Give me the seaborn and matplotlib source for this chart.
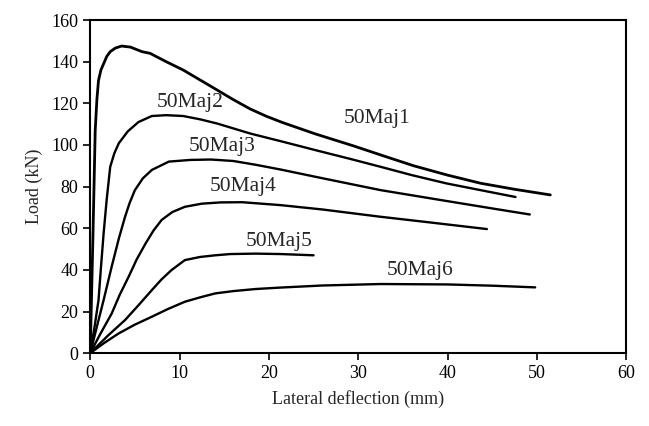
import matplotlib
matplotlib.use("Agg")
import matplotlib.pyplot as plt
import seaborn as sns

sns.set_style("ticks")
plt.rcParams['font.family'] = ['Liberation Serif', 'DejaVu Serif']

# Data (lateral deflection mm, load kN)
x1 = [0, 0.3, 0.56, 0.75, 0.93, 1.2, 1.5, 1.85, 2.24, 2.8, 3.5, 4.5, 5.8, 6.7, 8.5, 10.4, 12.3, 14.2, 16, 17.9, 19.7, 21.5, 25.2, 29.5, 33, 36.2, 40, 43.7, 47.5, 51.5]
y1 = [0, 55, 107, 122, 131, 136, 139, 142.5, 144.8, 146.5, 147.5, 147, 144.8, 144, 140, 136, 131.2, 126.4, 121.8, 117.3, 113.8, 110.8, 105.3, 99.5, 94.5, 90, 85.5, 81.6, 78.7, 76]

x2 = [0, 0.5, 0.93, 1.2, 1.5, 1.85, 2.24, 2.7, 3.2, 4.2, 5.4, 6.9, 8.5, 10.4, 12.3, 14.2, 17.9, 21.6, 25.4, 29.1, 32.5, 36, 39.9, 43.8, 47.6]
y2 = [0, 13, 25.5, 41, 57.5, 74, 89.5, 96, 100.8, 106.5, 111, 113.9, 114.3, 113.9, 112.3, 110.3, 105.5, 101.5, 97.3, 93.3, 89.5, 85.5, 81.5, 78.2, 75]

x3 = [0, 1.5, 2.4, 3.2, 3.9, 4.4, 5.0, 5.9, 6.9, 8.8, 11.2, 13.5, 16, 18.5, 21.3, 26, 32.5, 40, 45, 49.2]
y3 = [0, 25.5, 41.5, 55, 65.5, 72, 78.3, 84, 88, 92, 92.8, 93, 92.3, 90.5, 88.2, 84, 78.3, 73, 69.5, 66.6]

x4 = [0, 1.1, 2.4, 3.3, 4.3, 5.2, 6.2, 7.1, 8.0, 9.2, 10.6, 12.5, 14.6, 17, 21.3, 26, 32.5, 38, 44.4]
y4 = [0, 9, 19, 28, 36.7, 45, 52.7, 59, 64, 67.8, 70.3, 71.8, 72.4, 72.5, 71.1, 69, 65.5, 62.8, 59.6]

x5 = [0, 2.0, 3.9, 5.4, 6.9, 8.0, 9.1, 10.6, 12.3, 14, 15.7, 18.5, 21.3, 25]
y5 = [0, 8.5, 15.9, 23, 30.3, 35.5, 39.9, 44.7, 46.2, 47, 47.6, 47.8, 47.6, 47]

x6 = [0, 1.6, 3.2, 5.0, 6.9, 8.7, 10.6, 12.3, 14, 16, 18.5, 21.3, 26, 32.5, 40, 45, 49.8]
y6 = [0, 5, 9.5, 13.7, 17.5, 21.2, 24.7, 26.8, 28.7, 29.8, 30.8, 31.5, 32.5, 33.2, 33, 32.4, 31.6]

names = ["50Maj1", "50Maj2", "50Maj3", "50Maj4", "50Maj5", "50Maj6"]
label_x = [32.1, 11.2, 14.8, 17.1, 21.1, 36.9]
label_y = [112.8, 120.2, 99.1, 79.9, 53.5, 39.9]

xticks = [0, 10, 20, 30, 40, 50, 60]
yticks = [0, 20, 40, 60, 80, 100, 120, 140, 160]

fig = plt.figure(figsize=(6.49, 4.26), dpi=100)
ax = fig.add_axes([0.139, 0.171, 0.826, 0.782])

series = [(x1, y1, 2.0), (x2, y2, 1.7), (x3, y3, 1.7), (x4, y4, 1.7), (x5, y5, 1.7), (x6, y6, 1.7)]
for xs, ys, lw in series:
    sns.lineplot(x=xs, y=ys, ax=ax, color='black', linewidth=lw, sort=False, estimator=None)

for n, lx, ly in zip(names, label_x, label_y):
    ax.text(lx, ly, n, fontsize=15.5, ha='center', va='center')

ax.set_xlim(0, 60)
ax.set_ylim(0, 160)
ax.set_xticks(xticks)
ax.set_yticks(yticks)
ax.tick_params(direction='out', length=5, width=1.2, labelsize=13, colors='black')
for s in ax.spines.values():
    s.set_linewidth(1.5)
    s.set_color('black')
ax.set_xlabel("Lateral deflection (mm)", fontsize=13, labelpad=6)
ax.set_ylabel("Load (kN)", fontsize=13, labelpad=6)

fig.savefig("out.png", dpi=100)
